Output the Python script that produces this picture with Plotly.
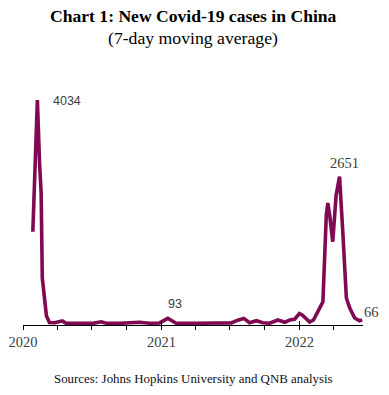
import plotly.graph_objects as go

dates = ["2020-01-27", "2020-02-02", "2020-02-08", "2020-02-14", "2020-02-18", "2020-02-21",
         "2020-02-26", "2020-03-03", "2020-03-11", "2020-03-24", "2020-04-14", "2020-04-24",
         "2020-06-07", "2020-06-20", "2020-07-04", "2020-07-26", "2020-08-08", "2020-09-12",
         "2020-11-04", "2020-12-01", "2020-12-27", "2021-01-18", "2021-02-09", "2021-04-07",
         "2021-07-05", "2021-07-22", "2021-08-07", "2021-08-22", "2021-09-09", "2021-09-26",
         "2021-10-14", "2021-11-05", "2021-11-23", "2021-12-06", "2021-12-19", "2022-01-01",
         "2022-01-09", "2022-01-28", "2022-02-07", "2022-02-19", "2022-03-04", "2022-03-13",
         "2022-03-17", "2022-03-22", "2022-03-30", "2022-04-08", "2022-04-17", "2022-04-26",
         "2022-05-05", "2022-05-14", "2022-05-27", "2022-06-09", "2022-06-16"]
cases = [1657, 2801, 4034, 2861, 2356, 821,
         424, 135, 18, 14, 45, 3,
         3, 10, 3, 32, 5, 3,
         22, 5, 10, 93, 5, 5,
         12, 60, 92, 15, 50, 15,
         5, 63, 22, 63, 76, 180,
         150, 25, 63, 220, 393, 1958,
         2175, 1950, 1477, 2320, 2651, 1600,
         460, 280, 100, 50, 66]

year_ticks = ["2020-01-01", "2021-01-01", "2022-01-01"]
year_labels = ["2020", "2021", "2022"]

# labelled points: (date, value, text, font, size, xanchor, xshift, yshift)
labels = [
    ("2020-02-08", 4034, "4034", "Liberation Sans", 12.5, "left", 14, -1),
    ("2021-01-18", 93, "93", "Liberation Sans", 12.5, "center", 7, 14),
    ("2022-04-17", 2651, "2651", "Liberation Serif", 14.5, "center", 4.5, 14),
    ("2022-06-16", 66, "66", "Liberation Serif", 14.5, "left", 0, 8),
]

line_color = "#7F0A52"
serif = "Liberation Serif"

fig = go.Figure()
fig.add_trace(go.Scatter(x=dates, y=cases, mode="lines",
                         line=dict(color=line_color, width=3.6),
                         showlegend=False, hoverinfo="skip"))
# invisible trace for the overlay axis carrying the inner half of the year ticks
fig.add_trace(go.Scatter(x=[dates[0]], y=[cases[0]], xaxis="x2", mode="markers",
                         marker=dict(opacity=0), showlegend=False, hoverinfo="skip"))

for d, v, t, f, s, xa, xs, ys in labels:
    fig.add_annotation(x=d, y=v, xref="x", yref="y", text=t, showarrow=False,
                       xanchor=xa, yanchor="middle", xshift=xs, yshift=ys,
                       font=dict(family=f, size=s, color="#404040"))

fig.add_annotation(x=0.5, y=1.261, xref="paper", yref="paper",
                   text="<b>Chart 1: New Covid-19 cases in China</b>", showarrow=False,
                   xanchor="center", yanchor="middle",
                   font=dict(family=serif, size=17.6, color="#000000"))
fig.add_annotation(x=0.5, y=1.1714, xref="paper", yref="paper",
                   text="(7-day moving average)", showarrow=False,
                   xanchor="center", yanchor="middle",
                   font=dict(family=serif, size=17.7, color="#000000"))
fig.add_annotation(x=0.5, y=-0.2204, xref="paper", yref="paper",
                   text="Sources: Johns Hopkins University and QNB analysis", showarrow=False,
                   xanchor="center", yanchor="middle",
                   font=dict(family=serif, size=12.9, color="#111111"))

xrange = ["2020-01-01", "2022-06-18"]
fig.update_layout(
    width=389, height=395, autosize=False,
    margin=dict(l=23, r=26, t=80, b=70),
    paper_bgcolor="white", plot_bgcolor="white",
    xaxis=dict(range=xrange, type="date", showgrid=False, zeroline=False, automargin=False,
               showline=True, linecolor="#000000", linewidth=1,
               tickvals=year_ticks, ticktext=year_labels,
               ticks="outside", ticklen=4, tickcolor="#000000", tickwidth=1,
               minor=dict(dtick="M3", tick0="2020-01-01", ticks="outside", ticklen=4,
                          tickcolor="#000000", tickwidth=1, showgrid=False),
               tickfont=dict(family=serif, size=14.5, color="#404040")),
    xaxis2=dict(range=xrange, type="date", overlaying="x", anchor="y", side="bottom",
                showgrid=False, zeroline=False, showline=False, automargin=False,
                tickvals=year_ticks, showticklabels=False,
                ticks="inside", ticklen=4, tickcolor="#000000", tickwidth=1),
    yaxis=dict(range=[-27, 4395], visible=False, showgrid=False, zeroline=False,
               automargin=False),
)

fig.write_html("out.html", config={"displayModeBar": False},
               post_script="document.body.style.margin='0';document.body.style.overflow='hidden';")
